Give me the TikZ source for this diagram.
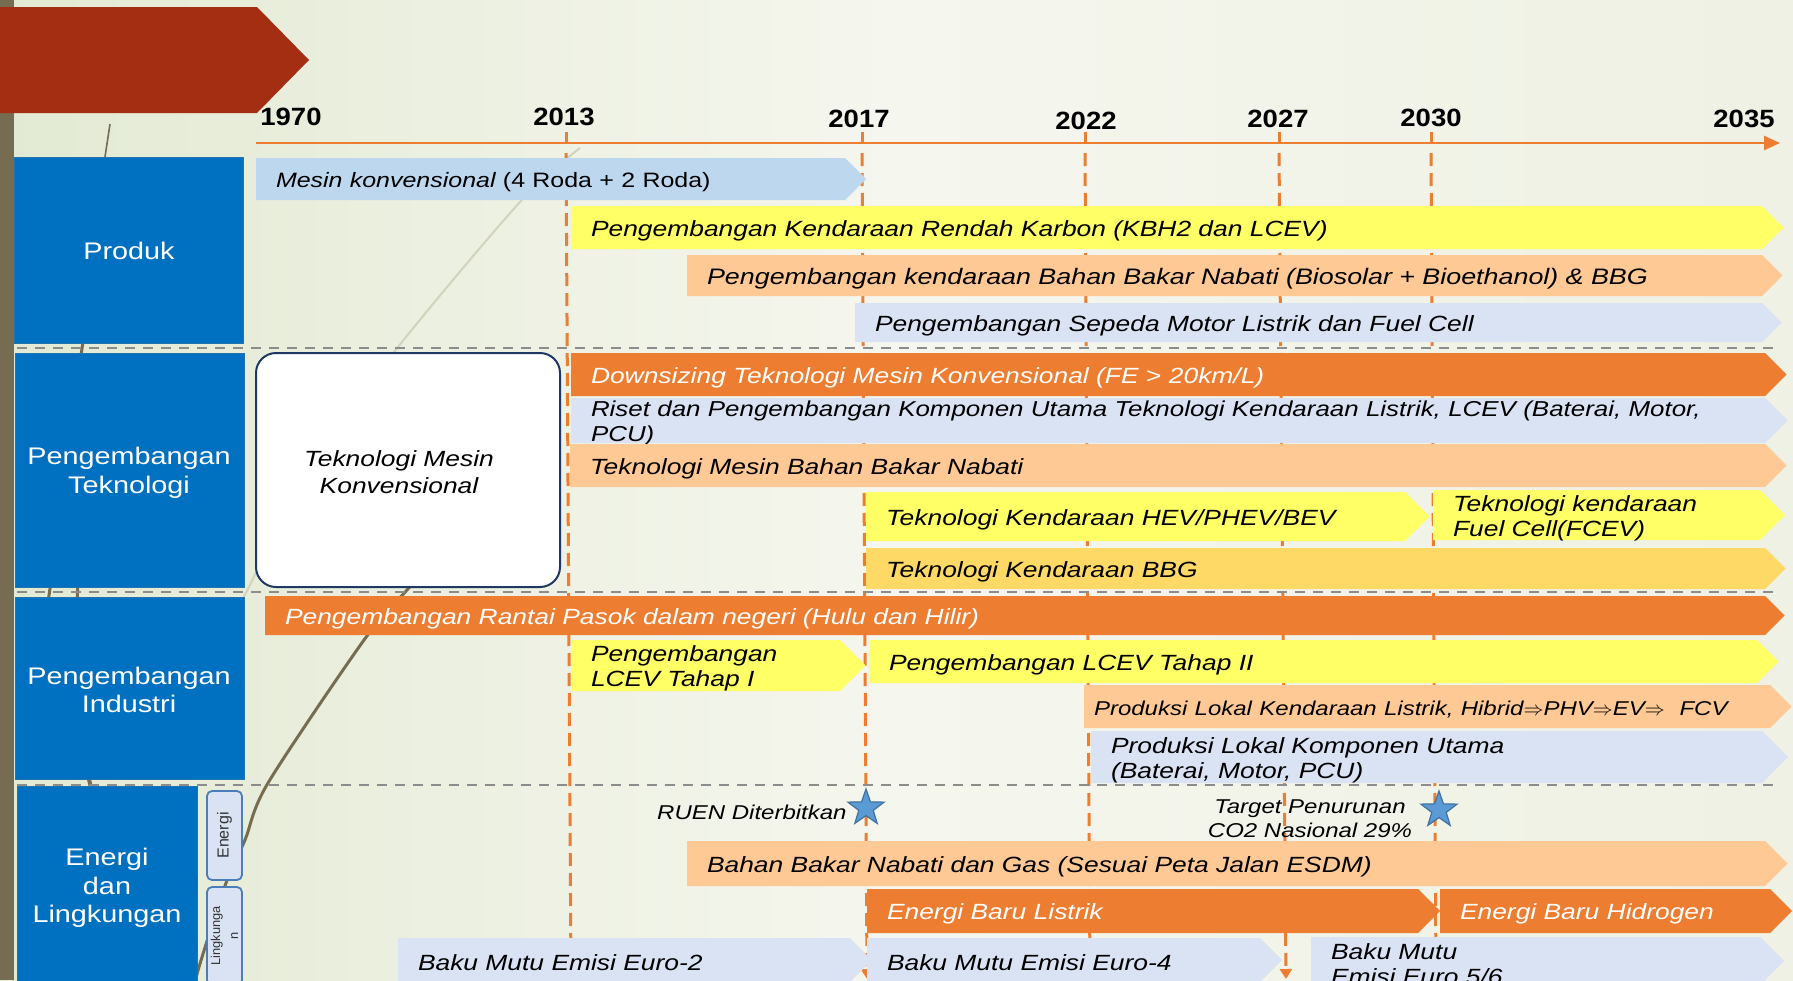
\documentclass[tikz,border=0pt]{standalone}
\usepackage{fontspec}
\setmainfont[FakeStretch=1.2]{Liberation Sans}
\newfontfamily\yearfont[FakeStretch=1.1]{Liberation Sans}
\newfontfamily\plainfont{Liberation Sans}
\usetikzlibrary{shapes.geometric,arrows.meta}

\definecolor{catblue}{HTML}{0070C0}
\definecolor{orangeA}{HTML}{ED7D31}
\definecolor{yellowA}{HTML}{FFFF66}
\definecolor{peachA}{HTML}{FFC996}
\definecolor{greyblue}{HTML}{DAE3F3}
\definecolor{mesinblue}{HTML}{BDD7EE}
\definecolor{goldA}{HTML}{FFD966}
\definecolor{starblue}{HTML}{5B9BD5}
\definecolor{starline}{HTML}{41719C}
\definecolor{redarrow}{HTML}{A32E12}
\definecolor{themebrown}{HTML}{766C52}
\definecolor{themelight}{HTML}{D0D4BC}
\definecolor{navyline}{HTML}{1F3864}
\definecolor{bgleft}{HTML}{E3EAD3}
\definecolor{bgmid}{HTML}{F5F6EE}
\definecolor{bgright}{HTML}{EEF1E3}
\definecolor{sepgrey}{HTML}{8C8C8C}
\definecolor{smallline}{HTML}{4A7EBB}

% name, x1, y1, x2 (flat end), y2, fill, text colour, text
\newcommand\tbar[8]{%
  \pgfmathsetlengthmacro\barh{(#5-#3)*0.5pt}%
  \pgfmathsetlengthmacro\barw{(#4-#2)*0.5pt-20pt}%
  \pgfmathsetmacro\tipx{#4+(#5-#3)/2}%
  \pgfmathsetmacro\midy{(#3+#5)/2}%
  \fill[#6] (#2,#3) -- (#4,#3) -- (\tipx,\midy) -- (#4,#5) -- (#2,#5) -- cycle;
  \node[barnode, text=#7, minimum height=\barh, text width=\barw] (#1) at (#2,#3) {#8};
}

\begin{document}
\begin{tikzpicture}[x=0.5pt,y=-0.5pt,
  barnode/.style={rectangle, anchor=north west, inner xsep=10pt, inner ysep=0pt, outer sep=0pt, yshift=-1.5pt, align=left, font=\fontsize{11}{12.5}\selectfont\itshape},
  catbox/.style={rectangle, fill=catblue, draw=catblue!75!gray, line width=0.5pt, inner sep=0pt},
  cattext/.style={text=white, align=center, font=\fontsize{12}{14.3}\selectfont, inner sep=0pt},
  yearlbl/.style={font=\yearfont\bfseries\fontsize{12.5}{14}\selectfont, inner sep=0pt},
  yearline/.style={orangeA, line width=1.5pt, dash pattern=on 6.5pt off 3.5pt, -{Triangle[length=5pt,width=6pt]}},
  yeartick/.style={orangeA, line width=1.5pt},
  sepline/.style={sepgrey, line width=1pt, dash pattern=on 5pt off 4pt},
  smallbx/.style={rectangle, rounded corners=2.5pt, fill=greyblue, draw=smallline, line width=0.9pt, rotate=90, text=black!80, inner sep=0pt, align=center},
  starmk/.style={star, star points=5, star point ratio=2.5, minimum size=19pt, inner sep=0pt, fill=starblue, draw=starline, line width=0.6pt},
  note/.style={font=\fontsize{10}{12}\selectfont\itshape, inner sep=0pt, align=center},
]
\useasboundingbox (0,0) rectangle (1793,980);
\clip (0,0) rectangle (1793,980);

% background
\shade[left color=bgleft, right color=bgright, middle color=bgmid] (0,0) rectangle (1793,980);

% decorative theme lines
\draw[themelight, line width=1pt] plot[smooth] coordinates {(580,148) (520,202) (398,347) (300,480) (250,585) (235,610)};
\draw[themebrown, line width=1.5pt] plot[smooth] coordinates {(425,570) (407,590) (364,640) (268,783) (245,840) (226,883) (199,967) (194,990)};
\draw[themebrown, line width=0.8pt] (110,124) -- (100,190);
\draw[themebrown, line width=1.5pt] (84,335) -- (80,362);
\draw[themebrown, line width=1.5pt] (51,582) -- (48,602);
\draw[themebrown, line width=1.5pt] (78,582) -- (77,602);
\draw[themebrown, line width=2pt] (88,775) -- (92,792);

% left bar and title arrow
\fill[themebrown] (0,0) rectangle (14,980);
\fill[redarrow] (0,7) -- (257,7) -- (309,60) -- (257,113) -- (0,113) -- cycle;

% time axis
\coordinate (axS) at (256,143);
\coordinate (axE) at (1780,143);
\draw[orangeA, line width=1.25pt, -{Triangle[length=8pt,width=7pt]}] (axS) -- (axE);

\node[yearlbl] (y1970) at (291,117) {1970};
\node[yearlbl] (y2013) at (564,117) {2013};
\node[yearlbl] (y2017) at (859,119) {2017};
\node[yearlbl] (y2022) at (1086,121) {2022};
\node[yearlbl] (y2027) at (1278,119) {2027};
\node[yearlbl] (y2030) at (1431,118) {2030};
\node[yearlbl] (y2035) at (1744,119) {2035};

% year ticks and dashed lines
\foreach \nm/\xt/\xb in {a/566/571, b/862/867, c/1085/1090, d/1279/1286, e/1431/1436}{
  \coordinate (tk\nm) at (\xt,132);
  \coordinate (ta\nm) at (\xt,143);
  \coordinate (ds\nm) at (\xt,153);
  \coordinate (de\nm) at (\xb,979);
  \draw[yeartick] (tk\nm) -- (ta\nm);
  \draw[yearline] (ds\nm) -- (de\nm);
}

% separators
\draw[sepline] (17,348) -- (1780,348);
\draw[sepline] (17,592) -- (1780,592);
\draw[sepline] (17,785) -- (1780,785);

% category boxes
\node[catbox, minimum width=114.25pt, minimum height=93pt] (cProduk) at (128.75,250) {};
\node[cattext] (tProduk) at (129,251) {Produk};
\node[catbox, minimum width=114.5pt, minimum height=117pt] (cTek) at (129.5,470) {};
\node[cattext] (tTek) at (129,473) {Pengembangan\\Teknologi};
\node[catbox, minimum width=114.5pt, minimum height=91pt] (cInd) at (129.5,688) {};
\node[cattext] (tInd) at (129,690) {Pengembangan\\Industri};
\node[catbox, minimum width=90pt, minimum height=99pt] (cEn) at (107,885) {};
\node[cattext] (tEn) at (107,888) {Energi\\dan\\Lingkungan};
\node[smallbx, minimum width=44.5pt, minimum height=17.5pt, font=\plainfont\fontsize{8}{9}\selectfont] (sEn) at (224.5,835.5) {Energi};
\node[smallbx, minimum width=49pt, minimum height=17.5pt, font=\plainfont\fontsize{6.4}{9}\selectfont] (sLing) at (224.5,936) {Lingkunga\\n};

% white box
\node[rectangle, rounded corners=10pt, fill=white, draw=navyline, line width=1pt, minimum width=152pt, minimum height=117pt, inner sep=0pt] (wBox) at (408,470) {};
\node[align=center, font=\fontsize{11}{13.3}\selectfont\itshape, inner sep=0pt] (wText) at (399,472) {Teknologi Mesin\\Konvensional};

% Produk bars
\tbar{b1}{256}{158}{845}{200}{mesinblue}{black}{{\fontsize{10.4}{12}\selectfont\raisebox{-1.5pt}{Mesin konvensional \upshape(4 Roda + 2 Roda)}}}
\tbar{b2}{571}{206}{1762}{249}{yellowA}{black}{Pengembangan Kendaraan Rendah Karbon (KBH2 dan LCEV)}
\tbar{b3}{687}{255}{1762}{296}{peachA}{black}{\fontsize{11.2}{12.5}\selectfont Pengembangan kendaraan Bahan Bakar Nabati (Biosolar + Bioethanol) \& BBG}
\tbar{b4}{855}{303}{1762}{342}{greyblue}{black}{Pengembangan Sepeda Motor Listrik dan Fuel Cell}

% Teknologi bars
\tbar{b5}{571}{353}{1765}{396}{orangeA}{white}{Downsizing Teknologi Mesin Konvensional (FE {\upshape>} 20km/L)}
\tbar{b6}{571}{398}{1765}{443}{greyblue}{black}{\fontsize{10.8}{12.3}\selectfont Riset dan Pengembangan Komponen Utama Teknologi Kendaraan Listrik, LCEV (Baterai, Motor,\\PCU)}
\tbar{b7}{570}{444}{1765}{487}{peachA}{black}{Teknologi Mesin Bahan Bakar Nabati}
\tbar{b8}{866}{492}{1405}{541}{yellowA}{black}{Teknologi Kendaraan HEV/PHEV/BEV}
\tbar{b9}{1433}{490}{1760}{540}{yellowA}{black}{Teknologi kendaraan\\Fuel Cell(FCEV)}
\tbar{b10}{866}{548}{1765}{589}{goldA}{black}{Teknologi Kendaraan BBG}

% Industri bars
\tbar{b11}{265}{596}{1765}{635}{orangeA}{white}{Pengembangan Rantai Pasok dalam negeri (Hulu dan Hilir)}
\tbar{b12}{571}{640}{840}{691}{yellowA}{black}{Pengembangan\\LCEV Tahap I}
\tbar{b13}{869}{640}{1757}{683}{yellowA}{black}{Pengembangan LCEV Tahap II}
\tbar{b14}{1084}{685}{1770}{728}{peachA}{black}{\hspace*{-5pt}{\fontsize{10}{12}\selectfont Produksi Lokal Kendaraan Listrik, Hibrid$\Rightarrow$PHV$\Rightarrow$EV$\Rightarrow$\ \ FCV}}
\tbar{b15}{1091}{731}{1762}{783}{greyblue}{black}{Produksi Lokal Komponen Utama\\(Baterai, Motor, PCU)}

% Energi bars and milestones
\node[starmk] (st1) at (866,808) {};
\node[starmk] (st2) at (1439,810) {};
\node[note, anchor=east] (nRuen) at (847,812) {RUEN Diterbitkan};
\node[note] (nTarget) at (1310,819) {Target Penurunan\\CO2 Nasional 29\%};

\tbar{b16}{687}{841}{1765}{886}{peachA}{black}{Bahan Bakar Nabati dan Gas (Sesuai Peta Jalan ESDM)}
\tbar{b17}{867}{889}{1418}{933}{orangeA}{white}{Energi Baru Listrik}
\tbar{b18}{1440}{889}{1770}{933}{orangeA}{white}{Energi Baru Hidrogen}
\tbar{b19}{398}{938}{850}{982}{greyblue}{black}{Baku Mutu Emisi Euro-2}
\tbar{b20}{867}{938}{1260}{982}{greyblue}{black}{Baku Mutu Emisi Euro-4}
\tbar{b21}{1311}{937}{1760}{985}{greyblue}{black}{Baku Mutu\\Emisi Euro 5/6}
\end{tikzpicture}
\end{document}
